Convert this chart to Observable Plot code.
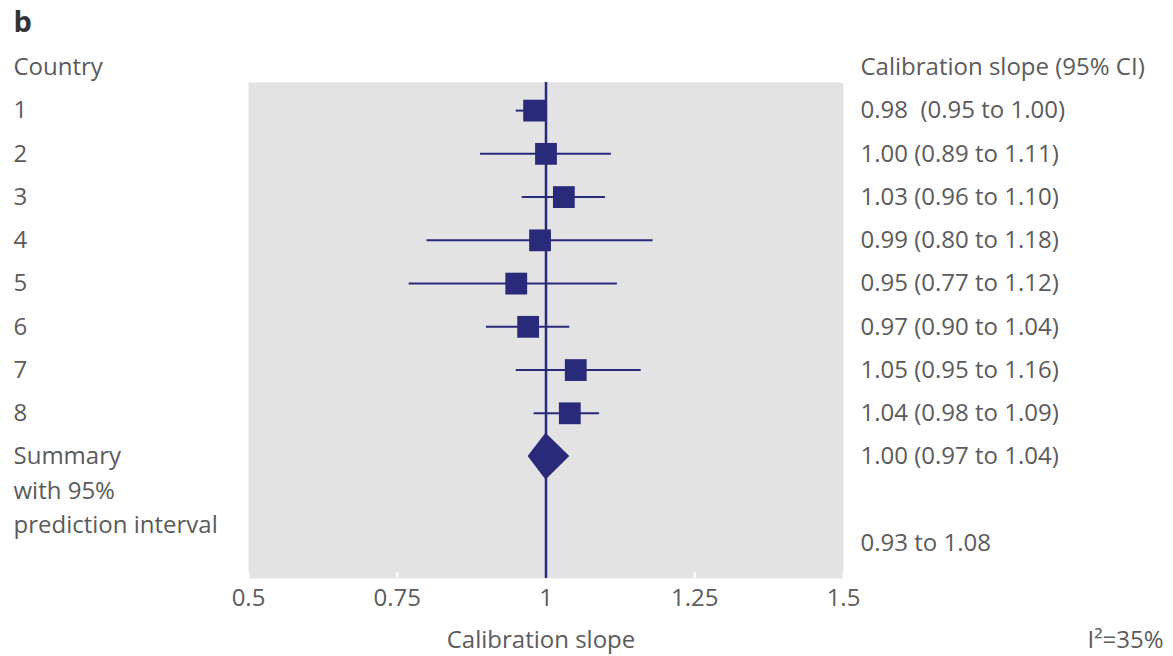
<!DOCTYPE html>
<html><head><meta charset="utf-8">
<script src="https://cdn.jsdelivr.net/npm/d3@7"></script>
<script src="https://cdn.jsdelivr.net/npm/@observablehq/plot@0.6"></script>
<style>html,body{margin:0;padding:0;background:#fff} svg{display:block}</style>
</head><body><div id="chart"></div>
<script>
// ---- data ----
const panelLabel = "b";
const leftHeader = "Country";
const rightHeader = "Calibration slope (95% CI)";
const countries = ["1","2","3","4","5","6","7","8"];
const estimates = [0.98, 1.00, 1.03, 0.99, 0.95, 0.97, 1.05, 1.04];
const lower     = [0.95, 0.89, 0.96, 0.80, 0.77, 0.90, 0.95, 0.98];
const upper     = [1.00, 1.11, 1.10, 1.18, 1.12, 1.04, 1.16, 1.09];
const summaryLabel = "Summary\nwith 95%\nprediction interval";
const summaryEst = 1.00, summaryLow = 0.97, summaryHigh = 1.04;
const predictionLow = 0.93, predictionHigh = 1.08;
const i2 = 35;
const xTicks = [0.5, 0.75, 1, 1.25, 1.5];
const xLabel = "Calibration slope";

// ---- derived ----
const navy = "#2a2a7a";
const fmt = d3.format(".2f");
const countryRows = countries.map((c, i) => ({
  label: c, row: i + 1, est: estimates[i], lo: lower[i], hi: upper[i],
  ci: `${fmt(estimates[i])}${i === 0 ? "\u00a0 " : " "}(${fmt(lower[i])} to ${fmt(upper[i])})`
}));
const summaryRow = countries.length + 1;
const predictionRow = summaryRow + 2;
const diamondHalf = 0.54;
const diamond = [
  {row: summaryRow - diamondHalf, x1: summaryEst, x2: summaryEst},
  {row: summaryRow, x1: summaryLow, x2: summaryHigh},
  {row: summaryRow + diamondHalf, x1: summaryEst, x2: summaryEst}
];
const rightRows = [
  {row: 0, text: rightHeader},
  ...countryRows.map(d => ({row: d.row, text: d.ci})),
  {row: summaryRow, text: `${fmt(summaryEst)} (${fmt(summaryLow)} to ${fmt(summaryHigh)})`},
  {row: predictionRow, text: `${fmt(predictionLow)} to ${fmt(predictionHigh)}`}
];
const leftRows = [{row: 0, text: leftHeader}, ...countryRows.map(d => ({row: d.row, text: d.label}))];

const chart = Plot.plot({
  width: 1173, height: 656,
  marginLeft: 248, marginRight: 330, marginTop: 82, marginBottom: 78,
  style: {fontFamily: "'Open Sans', sans-serif", fontSize: "24px", color: "#5b5b5b", background: "#fff"},
  x: {domain: [0.5, 1.5]},
  y: {domain: [0.35, predictionRow + 0.82], reverse: true, axis: null},
  marks: [
    Plot.frame({fill: "#e3e3e3", stroke: null}),
    Plot.axisX({ticks: xTicks, tickSize: 6, stroke: "white", strokeWidth: 2, text: null, dy: -6, label: null}),
    Plot.axisX({ticks: xTicks, tickFormat: d => String(d), tickSize: 0, tickPadding: 10, label: null, fontSize: 24}),
    Plot.ruleX([1], {stroke: navy, strokeWidth: 2.5}),
    Plot.ruleY(countryRows, {y: "row", x1: "lo", x2: "hi", stroke: navy, strokeWidth: 2}),
    Plot.dot(countryRows, {x: "est", y: "row", symbol: "square", r: 12.3, fill: navy, stroke: null}),
    Plot.areaX(diamond, {y: "row", x1: "x1", x2: "x2", fill: navy}),
    Plot.text(leftRows, {y: "row", text: "text", frameAnchor: "left", dx: -235, textAnchor: "start"}),
    Plot.text([summaryLabel], {y: () => summaryRow, frameAnchor: "left", dx: -235, textAnchor: "start", lineAnchor: "top", lineHeight: 1.44, dy: -17}),
    Plot.text(rightRows, {y: "row", text: "text", frameAnchor: "right", dx: 17, textAnchor: "start"}),
    Plot.text([panelLabel], {frameAnchor: "top-left", dx: -235, dy: -60, lineAnchor: "middle", textAnchor: "start", fontWeight: "bold", fontSize: 29, fill: "#333"}),
    Plot.text([xLabel], {frameAnchor: "bottom", dy: 62, dx: -5, lineAnchor: "middle"}),
    Plot.text([`I\u00b2=${i2}%`], {frameAnchor: "bottom-right", dx: 320, dy: 62, lineAnchor: "middle", textAnchor: "end"})
  ]
});
document.getElementById("chart").appendChild(chart);
</script>
</body></html>
